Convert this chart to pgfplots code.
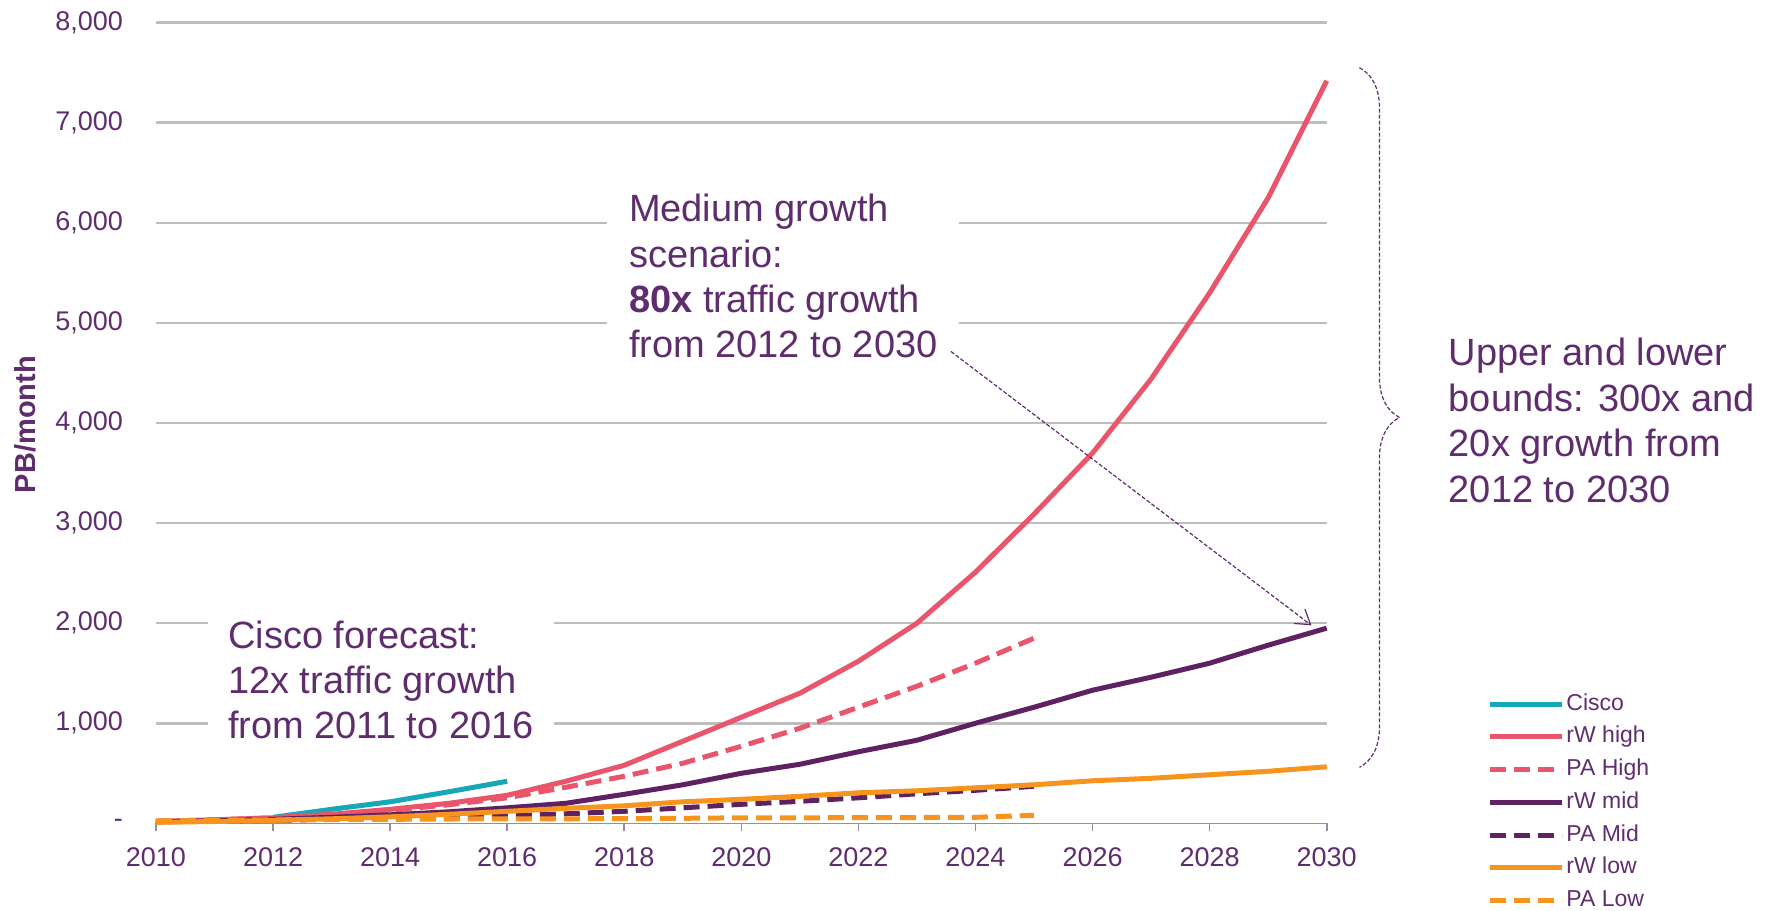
\documentclass[border=0pt]{standalone}
\usepackage{fontspec}
\setmainfont{Liberation Sans}
\usepackage{pgfplots}
\pgfplotsset{compat=1.18}
\usetikzlibrary{decorations.pathreplacing,arrows.meta}

\definecolor{txt}{HTML}{5F2D6E}
\definecolor{ciscoc}{HTML}{17A8B8}
\definecolor{redc}{HTML}{E9566B}
\definecolor{purc}{HTML}{5E2262}
\definecolor{orac}{HTML}{F7941D}
\definecolor{gridc}{HTML}{BEBEBE}
\definecolor{axisc}{HTML}{9A8AA8}

\begin{document}
\begin{tikzpicture}
\begin{axis}[
    scale only axis,
    width=585.5pt, height=400.4pt,
    xmin=2010, xmax=2030, ymin=0, ymax=8000,
    clip=false,
    axis x line*=bottom, axis y line*=left,
    y axis line style={draw=none},
    x axis line style={axisc, line width=0.8pt},
    xtick={2010,2012,2014,2016,2018,2020,2022,2024,2026,2028,2030},
    xticklabels={2010,2012,2014,2016,2018,2020,2022,2024,2026,2028,2030},
    xtick style={axisc, line width=0.8pt},
    tick align=outside, major tick length=4pt,
    ytick={1000,2000,3000,4000,5000,6000,7000,8000},
    yticklabels={{1,000},{2,000},{3,000},{4,000},{5,000},{6,000},{7,000},{8,000}},
    extra y ticks={0}, extra y tick labels={-},
    extra y tick style={grid=none},
    ytick style={draw=none},
    ymajorgrids, grid style={gridc, line width=1.3pt},
    ticklabel style={font=\fontsize{13.5}{15}\selectfont, text=txt},
    yticklabel style={xshift=-9pt},
    xticklabel style={yshift=-4.5pt},
    legend cell align=left,
    legend image code/.code={\draw[#1] (0pt,0pt) -- (36pt,0pt);},
    legend style={at={(rel axis cs:1.137,0.167)}, anchor=north west,
        draw=none, fill=none, inner sep=0pt, row sep=2.4pt,
        font=\fontsize{11.5}{13}\selectfont, text=txt,
        nodes={text height=9pt, text depth=3pt, inner sep=1pt}},
    every axis plot/.append style={line width=2.5pt, line join=round},
]
\coordinate (bl) at (rel axis cs:0,0);

% white boxes that break the gridlines
\node[fill=white, anchor=north west, align=left, inner xsep=10pt, inner ysep=4pt,
      font=\fontsize{19}{22.7}\selectfont, text=txt]
  at (axis cs:2010.886,2110) {Cisco forecast:\\12x traffic growth\\from 2011 to 2016};
\node[fill=white, anchor=north west, align=left, inner xsep=11pt, inner ysep=4pt,
      font=\fontsize{19}{22.7}\selectfont, text=txt]
  at (axis cs:2017.70,6370) {Medium growth\\scenario:\\\textbf{80x} traffic growth\\from 2012 to 2030};

\addplot[ciscoc] coordinates {(2012,60) (2013,140) (2014,215) (2015,315) (2016,420)};
\addlegendentry{Cisco}
\addplot[redc] coordinates {(2010,20) (2011,35) (2012,55) (2013,90) (2014,140) (2015,200) (2016,280)
  (2017,420) (2018,580) (2019,820) (2020,1060) (2021,1300) (2022,1620) (2023,2000) (2024,2510)
  (2025,3090) (2026,3700) (2027,4440) (2028,5300) (2029,6250) (2030,7420)};
\addlegendentry{rW high}
\addplot[redc, dash pattern=on 8pt off 4pt] coordinates {(2010,20) (2011,35) (2012,55) (2013,85)
  (2014,130) (2015,185) (2016,255) (2017,360) (2018,470) (2019,600) (2020,770) (2021,950)
  (2022,1160) (2023,1370) (2024,1600) (2025,1850)};
\addlegendentry{PA High}
\addplot[purc] coordinates {(2010,15) (2011,25) (2012,40) (2013,60) (2014,85) (2015,115) (2016,155)
  (2017,200) (2018,290) (2019,385) (2020,500) (2021,590) (2022,715) (2023,830) (2024,1000)
  (2025,1160) (2026,1330) (2027,1460) (2028,1600) (2029,1780) (2030,1950)};
\addlegendentry{rW mid}
\addplot[purc, dash pattern=on 8pt off 4pt] coordinates {(2010,15) (2011,22) (2012,30) (2013,40)
  (2014,52) (2015,62) (2016,75) (2017,95) (2018,120) (2019,155) (2020,190) (2021,220) (2022,255)
  (2023,295) (2024,330) (2025,370)};
\addlegendentry{PA Mid}
\addplot[orac] coordinates {(2010,10) (2011,18) (2012,30) (2013,45) (2014,65) (2015,90) (2016,120)
  (2017,150) (2018,175) (2019,215) (2020,240) (2021,270) (2022,305) (2023,325) (2024,355)
  (2025,385) (2026,425) (2027,450) (2028,485) (2029,520) (2030,565)};
\addlegendentry{rW low}
\addplot[orac, dash pattern=on 8pt off 4pt] coordinates {(2010,25) (2011,30) (2012,35) (2013,38)
  (2014,40) (2015,43) (2016,45) (2017,45) (2018,47) (2019,50) (2020,55) (2021,55) (2022,57)
  (2023,58) (2024,60) (2025,80)};
\addlegendentry{PA Low}

% arrow and brace
\draw[txt, line width=0.6pt, dash pattern=on 2pt off 1pt, -{Straight Barb[length=7pt,width=9pt]}]
  (axis cs:2023.58,4715) -- (axis cs:2029.74,1978);
\draw[txt, line width=0.6pt, dash pattern=on 2pt off 1pt, decorate, decoration={brace, amplitude=20pt}]
  (axis cs:2030.56,7550) -- (axis cs:2030.56,560);
\node[anchor=north west, align=left, inner sep=0pt, font=\fontsize{19}{22.7}\selectfont, text=txt]
  at (axis cs:2032.08,4850) {Upper and lower\\bounds: 300x and\\20x growth from\\2012 to 2030};

% y label
\node[rotate=90, font=\bfseries\fontsize{14.5}{16}\selectfont, text=txt]
  at ([xshift=-65.5pt]rel axis cs:0,0.498) {PB/month};
\end{axis}
\pgfresetboundingbox
\path[use as bounding box] ([shift={(-78pt,-43.75pt)}]bl) rectangle ([shift={(806.7pt,411.75pt)}]bl);
\end{tikzpicture}
\end{document}
